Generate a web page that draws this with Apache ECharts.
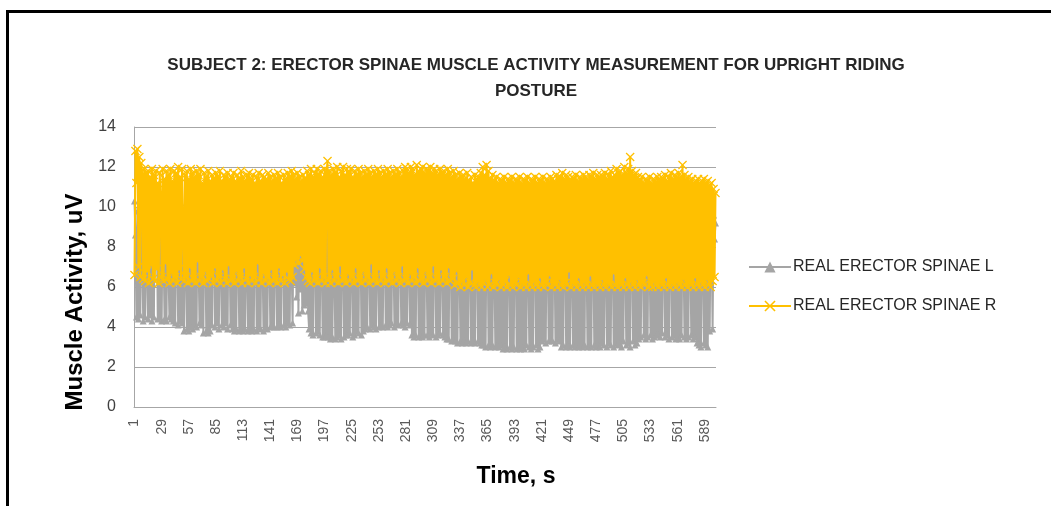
<!DOCTYPE html>
<html>
<head>
<meta charset="utf-8">
<script src="https://cdn.jsdelivr.net/npm/echarts@6/dist/echarts.min.js"></script>
<style>html,body{margin:0;padding:0;background:#fff}#c{width:1051px;height:506px}</style>
</head>
<body>
<div id="c"></div>
<script>
var titleText = 'SUBJECT 2: ERECTOR SPINAE MUSCLE ACTIVITY MEASUREMENT FOR UPRIGHT RIDING\nPOSTURE';
var seriesNames = ['REAL ERECTOR SPINAE L', 'REAL ERECTOR SPINAE R'];
var yTicks = [0, 2, 4, 6, 8, 10, 12, 14];

var erectorL = [
10.3,8.6,4.5,9.8,4.4,10.1,4.6,9.5,7.8,4.3,9.9,4.5,10.2,6.8,4.4,9.6,4.6,10.0,4.3,9.7,
4.5,10.1,8.9,9.2,4.4,9.8,4.5,10.0,4.3,9.4,7.5,4.4,9.9,4.3,10.1,6.9,4.5,9.6,4.4,9.8,
4.3,10.0,4.2,9.5,8.3,4.1,9.9,4.3,10.2,4.2,9.7,3.8,9.8,7.2,3.9,10.0,3.8,9.6,4.0,9.9,
3.9,10.1,4.1,9.5,4.0,9.8,7.6,4.2,10.0,4.1,9.7,3.7,9.9,8.1,3.8,9.6,3.7,10.1,3.8,9.8,
4.1,9.7,8.5,4.0,9.9,4.2,10.0,3.9,9.6,7.3,4.1,9.8,4.0,10.0,4.2,9.7,3.9,9.9,8.2,4.1,
9.6,3.9,10.0,3.8,9.8,3.9,9.7,7.9,3.8,9.9,3.9,10.1,3.8,9.6,3.9,9.8,7.0,3.8,10.0,3.9,
9.7,3.8,9.9,3.9,10.1,8.4,3.8,9.6,4.0,9.8,3.9,10.0,7.4,3.8,9.7,4.0,9.9,3.9,10.0,8.0,
4.0,9.8,4.1,9.6,4.0,10.0,7.7,4.0,9.9,4.1,9.7,4.0,10.1,8.6,4.1,9.8,4.0,9.6,4.2,10.0,
4.1,9.9,7.1,4.2,9.7,6.2,9.8,5.5,9.6,4.7,10.0,5.9,9.5,4.8,9.8,5.1,9.7,5.2,9.9,4.8,
3.9,9.8,3.7,10.0,3.6,9.6,8.3,3.7,9.9,3.8,9.7,3.6,10.1,7.5,3.5,9.8,3.5,9.6,3.6,10.0,
3.5,9.7,3.4,9.9,3.5,8.8,7.2,3.4,9.6,3.5,10.0,3.6,9.8,3.4,9.5,8.0,3.5,9.9,3.6,9.7,
3.6,10.0,3.7,9.6,7.4,3.5,9.8,3.6,9.9,3.8,9.7,3.7,10.0,8.5,3.6,9.6,3.8,9.8,3.9,10.1,
4.0,9.7,7.8,3.9,9.9,4.1,9.6,4.0,10.0,3.9,9.8,7.1,4.0,9.7,4.1,9.9,4.0,9.6,8.2,4.1,
9.8,4.0,10.0,4.1,9.7,4.2,9.9,7.6,4.0,9.6,4.2,9.8,4.1,10.1,8.1,4.2,9.7,4.1,9.9,4.0,
9.6,4.2,10.0,7.3,4.1,9.8,3.6,9.7,3.5,9.9,3.6,9.6,8.4,3.5,9.8,3.6,10.0,3.5,9.7,3.6,
9.9,7.7,3.6,9.6,3.5,9.8,3.7,10.0,3.6,9.7,8.0,3.5,9.9,3.6,9.6,3.7,9.8,7.4,3.6,9.7,
3.5,9.9,3.4,9.6,3.4,10.0,8.3,3.3,9.8,3.4,9.7,3.3,9.9,3.2,9.5,7.6,3.3,9.8,3.2,9.6,
3.3,9.8,3.2,9.5,3.3,9.9,7.9,3.2,9.7,3.3,9.6,3.2,10.0,8.2,3.3,9.8,3.2,9.6,3.1,9.9,
3.1,9.7,3.0,9.9,8.4,3.1,9.6,3.0,9.8,3.1,9.7,7.3,3.0,9.9,3.1,9.6,3.0,9.8,3.1,9.7,
2.9,9.9,3.0,9.6,2.9,9.8,7.8,3.0,9.7,2.9,9.9,3.0,9.6,8.1,2.9,9.8,3.0,9.7,2.9,9.9,
3.0,9.6,2.9,9.8,3.1,9.7,7.5,3.0,9.9,2.9,9.6,3.0,9.8,8.3,3.1,9.7,2.9,9.9,3.0,9.6,
3.3,9.8,3.4,9.7,3.2,9.9,7.7,3.3,9.6,3.4,9.8,3.3,9.7,8.0,3.2,9.9,3.4,9.6,3.3,9.8,
3.0,9.7,3.1,9.9,8.2,3.0,9.6,3.1,9.8,3.0,9.7,7.4,3.1,9.9,3.0,9.6,3.1,9.8,3.0,9.7,
3.1,9.9,3.0,9.6,3.1,9.8,7.9,3.0,9.7,3.1,9.9,3.0,9.6,8.3,3.1,9.8,3.0,9.7,3.1,9.9,
3.0,9.6,3.2,9.8,3.1,9.7,7.6,3.0,9.9,3.2,9.6,3.1,9.8,8.1,3.0,9.7,3.2,9.9,3.1,9.6,
3.2,9.8,3.0,9.7,3.3,9.9,7.8,3.1,9.6,3.2,9.8,3.0,9.7,8.4,3.3,9.9,3.1,9.6,3.2,9.8,
3.4,9.7,3.5,9.9,8.0,3.6,9.6,3.4,9.8,3.5,9.7,7.5,3.6,9.9,3.4,9.6,3.5,9.8,3.6,9.7,
3.6,9.9,3.5,9.6,3.7,9.8,7.7,3.5,9.7,3.6,9.9,3.4,9.6,8.2,3.5,9.8,3.6,9.7,3.4,9.9,
3.5,9.6,3.4,9.8,3.6,9.7,7.9,3.5,9.9,3.4,9.6,3.5,9.8,8.0,3.6,9.7,3.4,9.9,3.5,9.6,
3.2,9.8,3.1,9.7,3.0,9.9,7.6,3.2,9.6,3.1,9.8,3.0,9.7,3.8,9.5,8.3,3.9,9.6,8.4,9.2
];

var erectorR = [
6.6,12.8,11.2,12.9,7.0,12.5,6.5,12.2,11.6,6.4,11.9,6.3,11.7,6.8,11.8,6.2,11.5,7.1,11.9,6.4,
11.6,6.3,11.8,6.9,11.2,6.2,11.7,10.4,6.5,11.9,6.3,11.4,7.2,11.8,6.4,11.6,6.2,11.9,6.7,11.3,
6.3,11.8,6.5,11.7,6.2,12.0,6.9,11.5,6.4,11.9,8.8,6.3,11.6,6.5,11.8,6.2,11.4,7.0,11.9,6.3,
11.7,6.4,11.5,6.2,11.8,7.3,11.6,6.3,11.9,6.5,11.2,6.2,11.7,6.8,11.5,6.3,11.8,6.4,11.3,6.6,
11.6,6.2,11.4,7.0,11.7,6.3,11.5,6.5,11.8,6.2,11.3,6.9,11.6,6.4,11.5,6.2,11.7,7.1,11.4,6.3,
11.5,6.4,11.7,6.2,11.3,6.8,11.6,6.3,11.4,6.5,11.8,6.2,11.5,7.0,11.3,6.4,11.6,6.2,11.7,6.6,
11.4,6.3,11.6,6.5,11.2,6.2,11.5,7.2,11.7,6.4,11.3,6.2,11.6,6.7,11.5,6.3,11.4,6.5,11.7,6.2,
11.5,6.9,11.3,6.3,11.6,6.4,11.4,6.2,11.7,7.0,11.5,6.3,11.2,6.6,11.6,6.2,11.4,6.8,11.7,6.4,
11.5,6.3,11.8,6.5,11.6,7.1,11.4,7.4,11.7,7.2,11.5,7.6,11.3,7.3,11.6,6.9,11.4,6.5,11.8,6.3,
11.6,6.2,11.9,6.8,11.5,6.3,11.7,6.4,11.9,6.2,11.6,7.0,11.8,6.3,11.5,6.5,11.9,6.2,11.7,12.3,
6.4,11.8,6.2,11.6,6.9,11.9,6.3,11.7,6.5,12.0,6.2,11.5,7.1,11.8,6.3,12.0,6.4,11.6,6.2,11.9,
6.7,11.7,6.3,11.9,6.5,11.5,6.2,11.8,7.0,11.6,6.3,11.9,6.4,11.7,6.2,11.5,6.8,11.8,6.3,11.6,
6.5,11.9,6.2,11.7,7.2,11.5,6.3,11.8,6.4,11.6,6.2,11.9,6.9,11.7,6.3,11.5,6.5,11.8,6.2,11.6,
7.0,11.9,6.3,11.7,6.4,11.5,6.2,11.8,6.8,11.6,6.3,11.9,6.5,11.7,6.2,11.5,7.1,11.8,6.3,12.0,
6.4,11.9,6.2,11.7,6.7,12.0,6.3,11.8,6.5,11.6,6.2,12.1,7.0,11.8,6.3,11.9,6.4,12.0,6.2,11.7,
6.8,11.9,6.3,11.8,6.5,12.0,6.2,11.7,7.1,11.9,6.3,11.8,6.4,11.6,6.2,11.9,6.9,11.7,6.3,11.8,
6.5,11.6,6.2,11.9,7.0,11.7,6.3,11.5,6.4,11.8,6.1,11.6,6.8,11.4,6.2,11.7,6.0,11.5,6.3,11.6,
6.1,11.4,6.5,11.7,6.0,11.3,6.2,11.5,6.9,11.2,6.1,11.6,6.0,11.4,6.3,11.5,6.1,11.7,6.0,12.0,
6.2,11.6,6.4,12.1,6.0,11.8,6.1,11.4,6.7,11.6,6.0,11.3,6.2,11.5,6.1,11.2,6.4,11.4,6.0,11.3,
6.1,11.5,6.3,11.2,6.0,11.4,6.6,11.3,6.1,11.5,6.0,11.2,6.2,11.4,6.1,11.3,6.5,11.5,6.0,11.2,
6.2,11.4,6.1,11.3,6.0,11.5,6.7,11.2,6.1,11.4,6.0,11.3,6.3,11.5,6.1,11.2,6.0,11.4,6.5,11.3,
6.1,11.5,6.0,11.2,6.2,11.4,6.1,11.3,6.6,11.5,6.0,11.4,6.2,11.3,6.1,11.6,6.0,11.4,6.4,11.5,
6.1,11.7,6.0,11.4,6.2,11.6,6.1,11.5,6.8,11.3,6.0,11.5,6.2,11.4,6.1,11.6,6.0,11.3,6.5,11.5,
6.1,11.4,6.0,11.6,6.3,11.5,6.1,11.4,6.0,11.6,6.6,11.5,6.1,11.7,6.0,11.4,6.2,11.6,6.1,11.5,
6.0,11.6,6.4,11.5,6.1,11.7,6.0,11.4,6.2,11.6,6.1,11.8,6.0,11.5,6.7,11.6,6.1,11.9,6.0,11.7,
6.2,11.8,6.1,11.6,6.0,12.0,6.5,11.7,6.1,11.9,6.0,12.5,6.3,11.8,6.1,11.6,6.0,11.7,6.4,11.5,
6.1,11.3,6.0,11.5,6.2,11.2,6.1,11.4,6.6,11.3,6.0,11.5,6.1,11.2,6.0,11.4,6.3,11.3,6.1,11.5,
6.0,11.3,6.2,11.5,6.1,11.4,6.0,11.6,6.5,11.3,6.1,11.5,6.0,11.7,6.2,11.4,6.1,11.6,6.0,11.5,
6.3,11.7,6.1,11.5,6.0,12.1,6.4,11.6,6.1,11.4,6.0,11.5,6.2,11.3,6.1,11.4,6.0,11.2,6.5,11.3,
6.1,11.4,6.0,11.2,6.3,11.3,6.1,11.4,6.0,11.2,6.4,11.3,6.1,11.1,6.0,11.2,6.3,10.9,6.5,10.7
];

var timeCategories = [];
for (var i = 1; i <= erectorR.length; i++) timeCategories.push(String(i));

var xMark = 'path://M0,1L1,0L5,4L9,0L10,1L6,5L10,9L9,10L5,6L1,10L0,9L4,5Z';

var chart = echarts.init(document.getElementById('c'), null, {renderer: 'canvas'});
chart.setOption({
  animation: false,
  backgroundColor: '#ffffff',
  title: {
    text: titleText,
    left: 531, top: 47, textAlign: 'center',
    textStyle: {fontFamily: 'Liberation Sans, sans-serif', fontWeight: 'bold', fontSize: 17, lineHeight: 26, color: '#262626'}
  },
  legend: {
    orient: 'vertical', left: 748, top: 259, padding: 0,
    itemWidth: 42, itemHeight: 14, itemGap: 23,
    textStyle: {fontFamily: 'Liberation Sans, sans-serif', fontSize: 16, color: '#262626', padding: [0,0,0,-3]},
    data: seriesNames
  },
  grid: {left: 134, right: 335, top: 127, bottom: 99, containLabel: false},
  xAxis: {
    type: 'category', data: timeCategories, boundaryGap: true,
    axisLine: {show: true, lineStyle: {color: '#a6a6a6', width: 1}},
    axisTick: {show: false},
    axisLabel: {interval: 27, rotate: 90, fontFamily: 'Liberation Sans, sans-serif', fontSize: 14, color: '#595959', margin: 12}
  },
  yAxis: {
    type: 'value', min: 0, max: 14, interval: 2,
    axisLine: {show: true, lineStyle: {color: '#a6a6a6', width: 1}},
    axisTick: {show: false},
    splitLine: {show: true, lineStyle: {color: '#a6a6a6', width: 1}},
    axisLabel: {fontFamily: 'Liberation Sans, sans-serif', fontSize: 16, color: '#404040', margin: 18,
      formatter: function (v) { return yTicks.indexOf(v) >= 0 ? String(v) : ''; }}
  },
  graphic: [
    {type: 'rect', shape: {x: 7.5, y: 11.5, width: 1200, height: 700}, style: {fill: 'none', stroke: '#000', lineWidth: 3}, silent: true},
    {type: 'text', x: 516, y: 477, style: {text: 'Time, s', fontFamily: 'Liberation Sans, sans-serif', fontWeight: 'bold', fontSize: 23, fill: '#000', textAlign: 'center', textVerticalAlign: 'middle'}},
    {type: 'text', x: 75, y: 302, rotation: Math.PI / 2, style: {text: 'Muscle Activity, uV', fontFamily: 'Liberation Sans, sans-serif', fontWeight: 'bold', fontSize: 24, fill: '#000', textAlign: 'center', textVerticalAlign: 'middle'}}
  ],
  series: [
    {name: seriesNames[0], type: 'line', data: erectorL, showAllSymbol: true, z: 2,
      symbol: 'triangle', symbolSize: 7,
      lineStyle: {color: '#a5a5a5', width: 2}, itemStyle: {color: '#a5a5a5'}},
    {name: seriesNames[1], type: 'line', data: erectorR, showAllSymbol: true, z: 3,
      symbol: xMark, symbolSize: 9,
      lineStyle: {color: '#ffc000', width: 2}, itemStyle: {color: '#ffc000'}}
  ]
});
</script>
</body>
</html>
